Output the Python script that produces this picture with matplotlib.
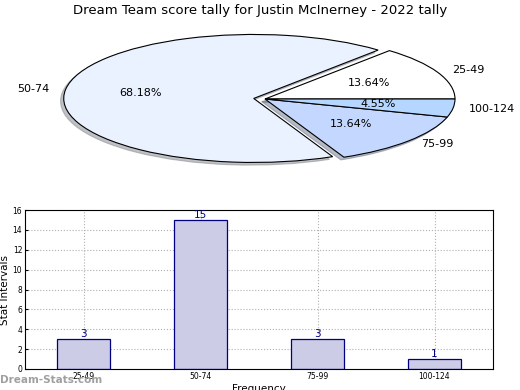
import matplotlib
matplotlib.use("Agg")
import matplotlib.pyplot as plt

categories = ["25-49", "50-74", "75-99", "100-124"]
counts = [3, 15, 3, 1]
pie_colors = ["#ffffff", "#eaf1ff", "#c4d8ff", "#b4d6ff"]
explode = [0, 0.06, 0, 0]
yticks = [0, 2, 4, 6, 8, 10, 12, 14, 16]

fig = plt.figure(figsize=(5.2, 3.9), dpi=100)
fig.patch.set_facecolor("white")

fig.text(0.5, 0.972, "Dream Team score tally for Justin McInerney - 2022 tally",
         ha="center", va="center", fontsize=9.5)

axp = fig.add_axes([75/520, 1-163/390, 380/520, 128/390])
wedges, texts, autotexts = axp.pie(counts, labels=categories, colors=pie_colors,
                                   explode=explode,
                                   shadow=dict(ox=-0.012, oy=-0.03, shade=0.45),
                                   autopct="%.2f%%",
                                   startangle=0, labeldistance=1.085, pctdistance=0.6,
                                   wedgeprops=dict(edgecolor="black", linewidth=0.8),
                                   textprops=dict(fontsize=8))
axp.set_aspect("auto")
axp.set_xlim(-1, 1)
axp.set_ylim(-1, 1)
for p in axp.patches:
    p.set_clip_on(False)
for t in texts + autotexts:
    t.set_clip_on(False)
axp.axis("off")

axb = fig.add_axes([25/520, 21/390, 468/520, 159/390])
x = list(range(len(categories)))
axb.bar(x, counts, width=0.45, color="#ccccE6", edgecolor="#000080", linewidth=0.9, zorder=2)
for xi, c in zip(x, counts):
    axb.text(xi, c, str(c), ha="center", va="bottom", color="#000080", fontsize=7.5, zorder=3)
axb.set_xlim(-0.5, 3.5)
axb.set_ylim(0, 16)
axb.set_yticks(yticks)
axb.set_xticks(x)
axb.set_xticklabels(categories)
axb.tick_params(axis="both", labelsize=5.5, length=2, direction="in", pad=2)
axb.grid(True, linestyle=":", color="#b0b0b0", linewidth=0.8, zorder=0)
axb.set_axisbelow(True)
axb.set_xlabel("Frequency", fontsize=7.5, labelpad=2)

fig.text(5/520, 1-290/390, "Stat Intervals", rotation=90, ha="center", va="center",
         fontsize=7.5)

fig.text(0.0, 0.025, "Dream-Stats.com", ha="left", va="center", fontsize=7.5,
         color="#a0a0a0", fontweight="bold")

fig.savefig("out.png", dpi=100)
